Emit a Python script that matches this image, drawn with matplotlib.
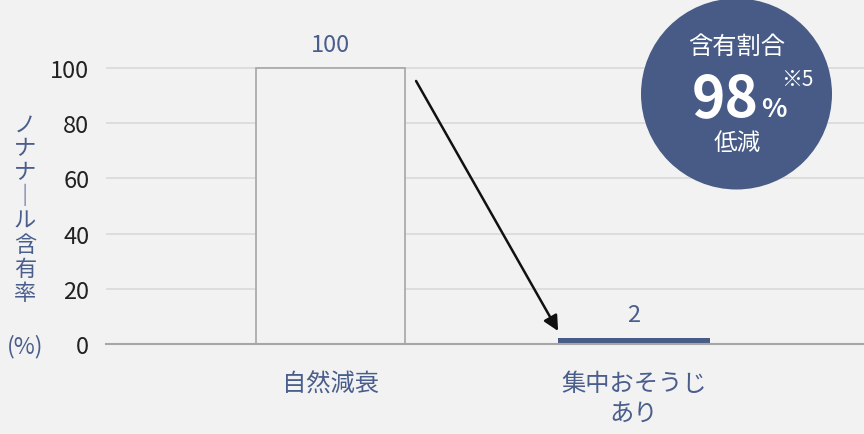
import matplotlib
matplotlib.use('Agg')
import matplotlib.pyplot as plt
from matplotlib.patches import Ellipse

plt.rcParams['font.family'] = ['Noto Sans CJK JP', 'DejaVu Sans']

# データ
categories = ['自然減衰', '集中おそうじ\nあり']
values = [100, 2]
yticks = [0, 20, 40, 60, 80, 100]

bg = '#f2f2f2'
navy = '#475b86'
text_blue = '#4a5e8c'

fig = plt.figure(figsize=(8.64, 4.35), dpi=100, facecolor=bg)
ax = fig.add_axes([106 / 864, 90 / 435, 1 - 106 / 864, 345 / 435])
ax.set_facecolor(bg)

x = list(range(len(categories)))
ax.bar(x[0], values[0], width=0.49, color=bg, edgecolor='#a6a6a6', linewidth=1.2, zorder=3)
ax.bar(x[1], values[1], width=0.5, color=navy, zorder=3)

# 値ラベル
ax.text(x[0], values[0] + 4.5, str(values[0]), ha='center', va='bottom', fontsize=17, color=text_blue)
ax.text(x[1], values[1] + 4.5, str(values[1]), ha='center', va='bottom', fontsize=17, color=text_blue)

ax.set_xlim(-0.7397, 1.758)
ax.set_ylim(0, 125)
ax.set_yticks(yticks)
ax.set_yticklabels([str(t) for t in yticks], fontsize=17, color='#222222')
ax.set_xticks(x)
ax.set_xticklabels(categories, fontsize=17.5, color=text_blue, linespacing=1.2)
ax.tick_params(axis='y', length=0, pad=12)
ax.tick_params(axis='x', length=0, pad=19)

for t in yticks[1:]:
    ax.axhline(t, color='#d9d9d9', lw=1.2, zorder=1)
for s in ['top', 'right', 'left']:
    ax.spines[s].set_visible(False)
ax.spines['bottom'].set_color('#a6a6a6')
ax.spines['bottom'].set_linewidth(1.5)
ax.spines['bottom'].set_zorder(4)

# 矢印
ax.annotate('', xy=(0.75, 4.7), xytext=(0.282, 95.3),
            arrowprops=dict(arrowstyle='-|>,head_length=0.9,head_width=0.45',
                            color='#111111', lw=1.8, shrinkA=0, shrinkB=0),
            zorder=5)

# 縦書きの軸ラベル
fig.text(25 / 864, 1 - 209 / 435, 'ノ\nナ\nナ\n｜\nル\n含\n有\n率', ha='center', va='center',
         fontsize=16, color=text_blue, linespacing=1.06)
fig.text(25 / 864, 1 - 347 / 435, '(%)', ha='center', va='center', fontsize=16.5, color=text_blue)

# 円
circ = Ellipse((736.5 / 864, 1 - 95 / 435), 191 / 864, 191 / 435, transform=fig.transFigure,
               facecolor=navy, edgecolor='none')
fig.add_artist(circ)
fig.text(736.5 / 864, 1 - 47 / 435, '含有割合', ha='center', va='center', fontsize=17.5, color='white')
fig.text(725 / 864, 1 - 117 / 435, '98', ha='center', va='baseline', fontsize=41,
         color='white', fontweight='bold')
fig.text(774 / 864, 1 - 117 / 435, '%', ha='center', va='baseline', fontsize=19,
         color='white', fontweight='bold')
fig.text(797 / 864, 1 - 80 / 435, '※5', ha='center', va='center', fontsize=15, color='white')
fig.text(737.5 / 864, 1 - 143 / 435, '低減', ha='center', va='center', fontsize=17, color='white')

fig.savefig('out.png', dpi=100, facecolor=bg)
